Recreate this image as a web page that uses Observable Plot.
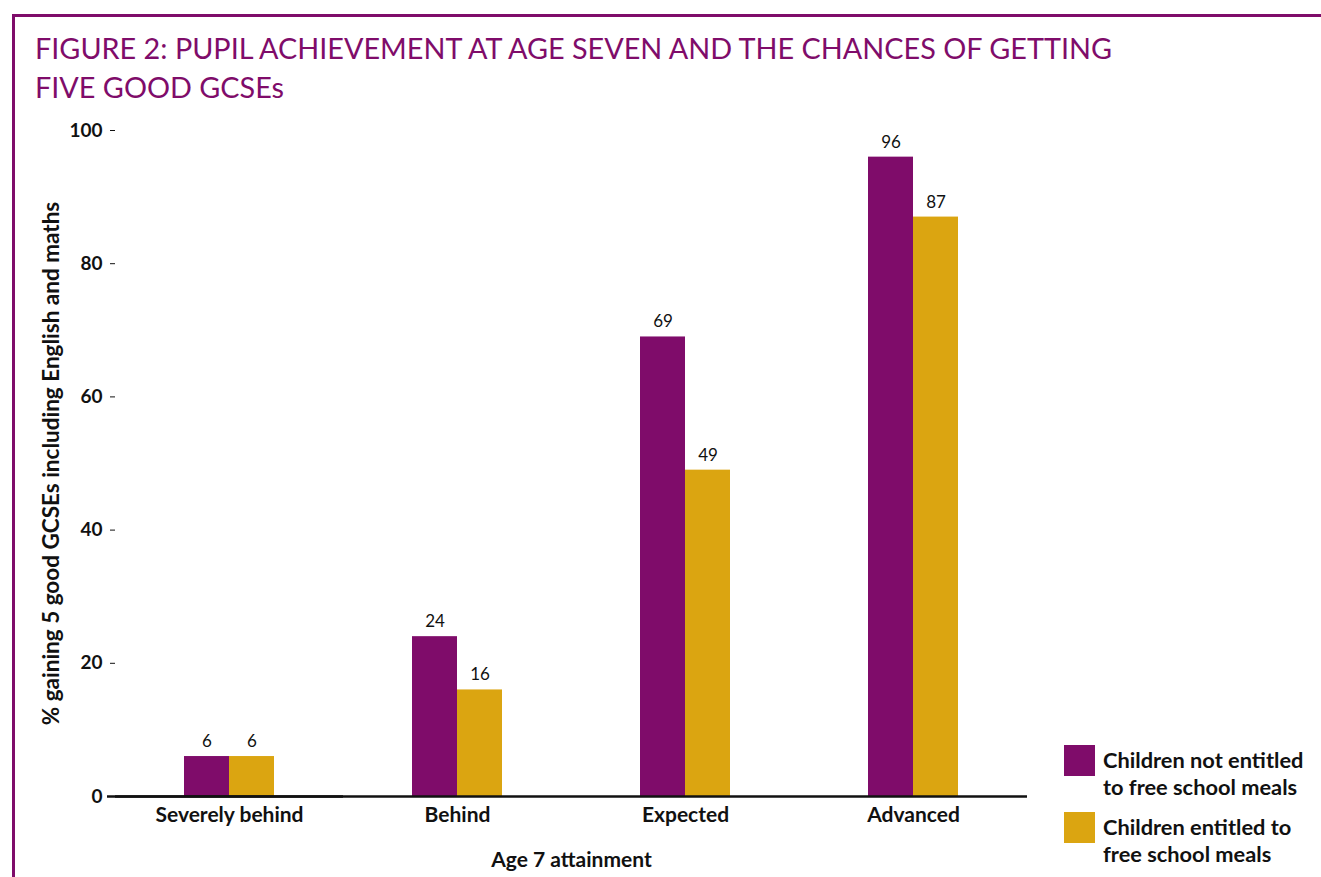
<!DOCTYPE html>
<html>
<head>
<meta charset="utf-8">
<script src="https://cdn.jsdelivr.net/npm/d3@7"></script>
<script src="https://cdn.jsdelivr.net/npm/@observablehq/plot@0.6"></script>
<style>
  html, body { margin: 0; padding: 0; background: #fff; }
  body { width: 1321px; height: 877px; position: relative; overflow: hidden; font-family: Lato, "Open Sans", sans-serif; }
  #frame { position: absolute; left: 12px; top: 14px; right: -10px; bottom: -10px; border-top: 3px solid #7f0c6a; border-left: 3px solid #7f0c6a; }
  #title { position: absolute; left: 35px; top: 29px; color: #7f0c6a; font-size: 28.8px; line-height: 39px; font-weight: 400; white-space: nowrap; }
  #chart { position: absolute; left: 0; top: 0; }
  .leg { position: absolute; left: 1064px; display: flex; align-items: flex-start; }
  .sw { width: 31px; height: 31px; margin-right: 8px; }
  .lt { font-weight: 700; font-size: 21.8px; line-height: 26.5px; color: #111; margin-top: 2px; white-space: nowrap; }
</style>
</head>
<body>
<div id="frame"></div>
<div id="title">FIGURE 2: PUPIL ACHIEVEMENT AT AGE SEVEN AND THE CHANCES OF GETTING<br>FIVE GOOD GCSEs</div>
<div id="chart"></div>
<div id="legend"></div>
<script>
const categories = ["Severely behind", "Behind", "Expected", "Advanced"];
const seriesNames = ["Children not entitled to free school meals", "Children entitled to free school meals"];
const legendLines = [["Children not entitled", "to free school meals"], ["Children entitled to", "free school meals"]];
const notFSM = [6, 24, 69, 96];
const FSM = [6, 16, 49, 87];
const colors = ["#7f0c6a", "#dba511"];
const yTicks = [0, 20, 40, 60, 80, 100];

const data = [];
categories.forEach((c, i) => {
  data.push({category: c, series: seriesNames[0], value: notFSM[i]});
  data.push({category: c, series: seriesNames[1], value: FSM[i]});
});

const plot = Plot.plot({
  width: 1321,
  height: 877,
  marginTop: 130,
  marginBottom: 81,
  marginLeft: 114,
  marginRight: 294,
  style: {fontFamily: "Lato, 'Open Sans', sans-serif", color: "#111", background: "transparent"},
  fx: {domain: categories, padding: 0, label: null},
  x: {domain: seriesNames, axis: null, paddingInner: 0, paddingOuter: 1.48},
  y: {domain: [0, 100], label: null},
  color: {domain: seriesNames, range: colors},
  marks: [
    Plot.barY(data, {fx: "category", x: "series", y: "value", fill: "series"}),
    Plot.text(data, {fx: "category", x: "series", y: "value", text: d => String(d.value), dy: -15, fontSize: 17, fill: "#111"}),
    Plot.axisY({ticks: yTicks, tickSize: 5, tickPadding: 8, fontSize: 19, fontWeight: 700, label: null}),
    Plot.axisY({ticks: [], tickSize: 0, fontSize: 22.5, fontWeight: 700, label: "% gaining 5 good GCSEs including English and maths", labelAnchor: "center", labelArrow: "none", labelOffset: 72}),
    Plot.axisFx({anchor: "bottom", tickSize: 0, tickPadding: 11, fontSize: 21, fontWeight: 700, label: "Age 7 attainment", labelAnchor: "center", labelArrow: "none", labelOffset: 70}),
    Plot.ruleY([0], {stroke: "#111", strokeWidth: 2.5}),
    Plot.ruleY([{category: categories[0], v: 0}], {fx: "category", y: "v", stroke: "#111", strokeWidth: 2.5, insetLeft: -8})
  ]
});
document.getElementById("chart").appendChild(plot);

const legend = document.getElementById("legend");
const tops = [745, 812];
seriesNames.forEach((s, i) => {
  const row = document.createElement("div");
  row.className = "leg";
  row.style.top = tops[i] + "px";
  const sw = document.createElement("div");
  sw.className = "sw";
  sw.style.background = colors[i];
  const t = document.createElement("div");
  t.className = "lt";
  t.innerHTML = legendLines[i].join("<br>");
  row.appendChild(sw);
  row.appendChild(t);
  legend.appendChild(row);
});
</script>
</body>
</html>
